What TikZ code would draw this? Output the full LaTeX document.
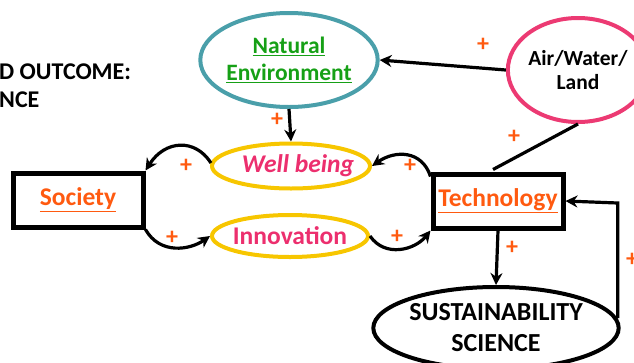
\documentclass[tikz,border=0pt]{standalone}
\usepackage{fontspec}
\setmainfont{Carlito}
\usetikzlibrary{arrows.meta,shapes.geometric}
\definecolor{tealc}{HTML}{4A9FAA}
\definecolor{pinkc}{HTML}{EC3A73}
\definecolor{goldc}{HTML}{F7C600}
\definecolor{greenc}{HTML}{16A016}
\definecolor{orangec}{HTML}{FF5A10}
\definecolor{textpink}{HTML}{EC2F6E}
\tikzset{
  big/.style={font=\fontsize{#1}{#1}\selectfont\bfseries},
  big/.default=23,
  oval/.style={ellipse, line width=4pt, inner sep=0pt},
  boxnode/.style={draw, line width=5pt, minimum width=130pt, minimum height=54pt, inner sep=0pt},
  plus/.style={text=orangec, font=\fontsize{24}{24}\selectfont\bfseries, inner sep=0pt},
  arr/.style={line width=3.2pt, -{Stealth[length=12pt,width=12pt]}},
  ln/.style={line width=3.2pt}
}
\begin{document}
\begin{tikzpicture}[x=1pt,y=-1pt]
\useasboundingbox (0,0) rectangle (634,362);
% title fragment
\node[big=24, anchor=west, align=left, inner sep=0pt] (title) at (-1,86) {D OUTCOME:\\[4pt]NCE};
% ellipses
\node[oval, draw=tealc, minimum width=170pt, minimum height=94pt, big=23.5, text=greenc, align=center] (nat) at (289,60) {\underline{Natural}\\[3pt]\underline{Environment}};
\node[oval, draw=pinkc, minimum width=112pt, minimum height=104pt, big=21.5, align=center] (air) at (578,70) {Air/Water/\\[3pt]Land};
\node[oval, draw=goldc, minimum width=158pt, minimum height=45pt, big=25.5, text=textpink] (well) at (291,166) {\makebox[0pt]{\itshape\hspace{14pt}Well being}};
\node[oval, draw=goldc, minimum width=156pt, minimum height=42pt, big=25.5, text=textpink] (inno) at (290,236) {\makebox[0pt]{Innovation}};
\node[oval, draw=black, minimum width=236pt, minimum height=82pt, big=26, align=center] (sus) at (496,328) {SUSTAINABILITY\\[5pt]SCIENCE};
% boxes
\node[boxnode, big=25.5, text=orangec] (soc) at (78,200) {\underline{Society}};
\node[boxnode, big=25.5, text=orangec] (tech) at (498,201) {\underline{Technology}};
% coordinates
\coordinate (c1) at (612,203);
% connectors
\draw[arr] (air.west) -- (nat.east);
\draw[arr] (nat.south) -- (well.north);
\draw[ln] (tech.north) ++(-5,-2) coordinate (tn) (tn) -- (air.south);
\draw[arr] (well.west) ++(1,-3) coordinate (wl) (wl) .. controls (195,138) and (165,140) .. (soc.north east);
\draw[arr] (tech.north west) ++(0,5) coordinate (tw) (tw) .. controls (422,150) and (395,150) .. (well.east);
\draw[arr] (soc.south east) .. controls (160,255) and (190,250) .. (inno.west);
\draw[arr] (inno.east) .. controls (385,258) and (415,250) .. (tech.south west);
\draw[arr] (tech.south) -- (sus.north);
\draw[arr] (sus.east) ++(-3,-10) coordinate (se) (se) -- (se |- c1) -- (tech.east);
% plus signs
\node[plus] (p1) at (483,45) {+};
\node[plus] (p2) at (277,120) {+};
\node[plus] (p3) at (514,137) {+};
\node[plus] (p4) at (186,166) {+};
\node[plus] (p5) at (410,166) {+};
\node[plus] (p6) at (172,238) {+};
\node[plus] (p7) at (397,237) {+};
\node[plus] (p8) at (512,248) {+};
\node[plus] (p9) at (632,260) {+};
\end{tikzpicture}
\end{document}
